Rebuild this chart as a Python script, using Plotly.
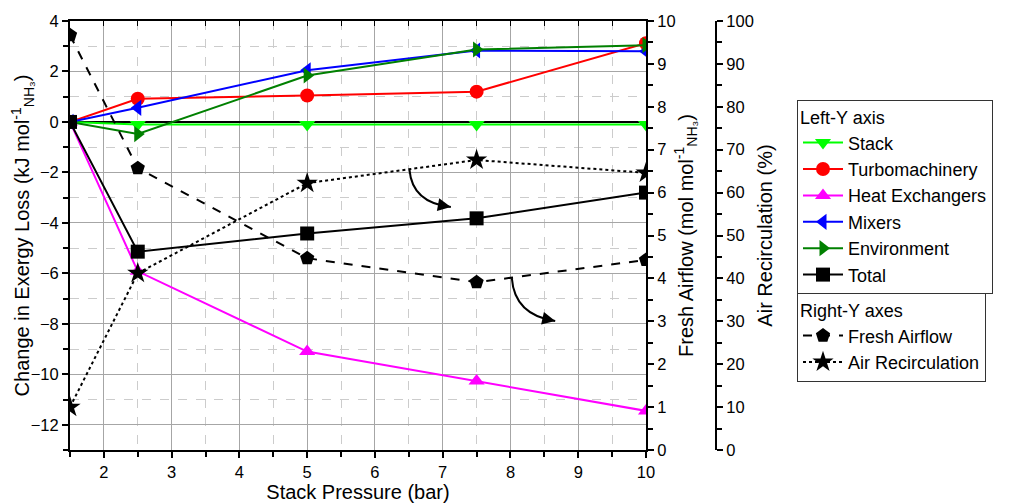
import plotly.graph_objects as go

pressure = [1.5, 2.5, 5, 7.5, 10]
stack = [0, -0.1, -0.1, -0.1, -0.1]
turbo = [0, 0.92, 1.05, 1.2, 3.12]
heatx = [0, -5.92, -9.1, -10.27, -11.45]
mixers = [0, 0.56, 2.05, 2.83, 2.8]
environment = [0, -0.48, 1.84, 2.87, 3.04]
total = [0, -5.14, -4.42, -3.82, -2.8]
fresh_air = [9.67, 6.57, 4.47, 3.91, 4.43]
air_recirc = [10, 41.2, 62.2, 67.6, 64.6]

# curved annotation arrows: (start, control, end) in (x, left-y) units
arrow_curves = [
    ((6.51, -1.9), (6.55, -3.2), (7.12, -3.37)),
    ((8.02, -6.19), (8.06, -7.65), (8.66, -7.89)),
]

FONT = "Liberation Sans, Arial, sans-serif"
fig = go.Figure()

left_series = [
    ("Stack", stack, "#00ff00", "triangle-down"),
    ("Turbomachinery", turbo, "#ff0000", "circle"),
    ("Heat Exchangers", heatx, "#ff00ff", "triangle-up"),
    ("Mixers", mixers, "#0000ff", "triangle-left"),
    ("Environment", environment, "#008000", "triangle-right"),
    ("Total", total, "#000000", "square"),
]
for name, vals, col, sym in left_series:
    fig.add_trace(go.Scatter(
        x=pressure, y=vals, name=name, mode="lines+markers",
        line=dict(color=col, width=2),
        marker=dict(symbol=sym, size=14, color=col),
        legend="legend", yaxis="y"))

fig.add_trace(go.Scatter(
    x=pressure, y=fresh_air, name="Fresh Airflow", mode="lines+markers",
    line=dict(color="black", width=2, dash="dash"),
    marker=dict(symbol="pentagon", size=15, color="black"),
    legend="legend2", yaxis="y2"))
fig.add_trace(go.Scatter(
    x=pressure, y=air_recirc, name="Air Recirculation", mode="lines+markers",
    line=dict(color="black", width=2, dash="dot"),
    marker=dict(symbol="star", size=16, color="black"),
    legend="legend2", yaxis="y3"))

# dummy trace so the top mirrored axis is drawn
fig.add_trace(go.Scatter(x=[None], y=[None], xaxis="x2", yaxis="y",
                         showlegend=False, hoverinfo="skip"))

shapes = []
annotations = []
for (s, c, e) in arrow_curves:
    shapes.append(dict(type="path", xref="x", yref="y",
                       path=f"M {s[0]},{s[1]} Q {c[0]},{c[1]} {e[0]},{e[1]}",
                       line=dict(color="black", width=2)))
    t = 0.85
    px = (1 - t) ** 2 * s[0] + 2 * (1 - t) * t * c[0] + t ** 2 * e[0]
    py = (1 - t) ** 2 * s[1] + 2 * (1 - t) * t * c[1] + t ** 2 * e[1]
    annotations.append(dict(x=e[0], y=e[1], ax=px, ay=py, xref="x", yref="y",
                            axref="x", ayref="y", text="", showarrow=True,
                            arrowhead=2, arrowsize=1.3, arrowwidth=2,
                            arrowcolor="black"))

# page has an 8px body margin; figure coordinates are page coordinates - 8
OFF = 8
W, H = 1018 - OFF, 503 - OFF
ml, mt = 70 - OFF, 21 - OFF
plot_right, plot_bottom = 646 - OFF, 450 - OFF
mr = 10
mb = H - plot_bottom
pw = W - ml - mr
ph = H - mt - mb
xdom_end = (plot_right - ml) / pw
y3pos = (716 - OFF - ml) / pw


def lx(page_x):
    return (page_x - OFF - ml) / pw


def ly(page_y):
    return (plot_bottom - (page_y - OFF)) / ph


grid_major = "#a6a6a6"
grid_minor = "#cccccc"
TICKF = 16.5
TITLEF = 20
LEGF = 18

fig.update_layout(
    width=W, height=H,
    margin=dict(l=ml, r=mr, t=mt, b=mb, autoexpand=False),
    plot_bgcolor="white", paper_bgcolor="white",
    font=dict(family=FONT, size=TICKF, color="black"),
    xaxis=dict(domain=[0, xdom_end], range=[1.5, 10], tick0=0, dtick=1,
               automargin=False,
               showline=True, linecolor="black", linewidth=2,
               ticks="outside", ticklen=6, tickwidth=1.5, tickcolor="black",
               showgrid=True, gridcolor=grid_major, gridwidth=1,
               minor=dict(dtick=0.5, ticks="outside", ticklen=5, tickcolor="black",
                          showgrid=True, gridcolor=grid_minor, griddash="dash"),
               zeroline=False,
               title=dict(text="Stack Pressure (bar)", font=dict(size=TITLEF), standoff=4)),
    xaxis2=dict(overlaying="x", side="top", matches="x", range=[1.5, 10],
                automargin=False,
                showticklabels=False, tick0=0, dtick=0.5, ticks="inside",
                ticklen=5, tickcolor="black", showgrid=False, zeroline=False,
                showline=True, linecolor="black", linewidth=2),
    yaxis=dict(range=[-13, 4], tick0=0, dtick=2, automargin=False,
               showline=True, linecolor="black", linewidth=2,
               ticks="outside", ticklen=6, tickwidth=1.5, tickcolor="black",
               showgrid=True, gridcolor=grid_major, gridwidth=1,
               minor=dict(dtick=1, ticks="outside", ticklen=5, tickcolor="black",
                          showgrid=True, gridcolor=grid_minor, griddash="dash"),
               zeroline=True, zerolinecolor="black", zerolinewidth=2,
               title=dict(text="Change in Exergy Loss (kJ mol<sup>-1</sup><sub>NH₃</sub>)",
                          font=dict(size=TITLEF), standoff=4)),
    yaxis2=dict(overlaying="y", side="right", anchor="x", range=[0, 10],
                automargin=False,
                tick0=0, dtick=1, showline=True, linecolor="black", linewidth=2,
                ticks="outside", ticklen=6, tickwidth=1.5, tickcolor="black",
                minor=dict(dtick=0.5, ticks="outside", ticklen=5, tickcolor="black"),
                showgrid=False, zeroline=False,
                title=dict(text="Fresh Airflow (mol mol<sup>-1</sup><sub>NH₃</sub>)",
                           font=dict(size=TITLEF), standoff=4)),
    yaxis3=dict(overlaying="y", side="right", anchor="free", position=y3pos,
                automargin=False,
                range=[0, 100], tick0=0, dtick=10, showline=True,
                linecolor="black", linewidth=2,
                ticks="outside", ticklen=6, tickwidth=1.5, tickcolor="black",
                minor=dict(dtick=5, ticks="outside", ticklen=5, tickcolor="black"),
                showgrid=False, zeroline=False,
                title=dict(text="Air Recirculation (%)", font=dict(size=TITLEF), standoff=4)),
    legend=dict(x=lx(797), y=ly(100),
                xanchor="left", yanchor="top",
                bordercolor="#333333", borderwidth=1, bgcolor="white",
                font=dict(size=LEGF), title=dict(text="Left-Y axis", font=dict(size=LEGF)),
                itemwidth=40, tracegroupgap=0),
    legend2=dict(x=lx(797), y=ly(293),
                 xanchor="left", yanchor="top",
                 bordercolor="#333333", borderwidth=1, bgcolor="white",
                 font=dict(size=LEGF), title=dict(text="Right-Y axes", font=dict(size=LEGF)),
                 itemwidth=40, tracegroupgap=0),
    shapes=shapes,
    annotations=annotations,
    showlegend=True,
)

fig.write_html("out.html")
